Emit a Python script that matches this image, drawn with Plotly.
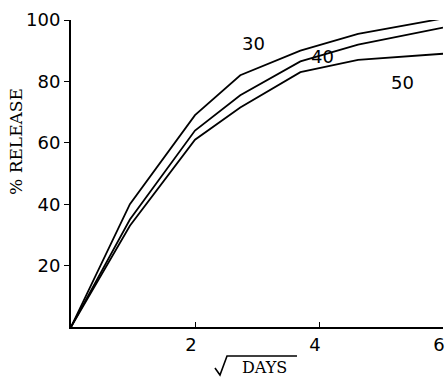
import plotly.graph_objects as go

sqrt_days = [0, 0.95, 2.0, 2.73, 3.7, 4.63, 6.0]
release_30 = [0, 40, 69, 82, 90, 95.5, 100.5]
release_40 = [0, 35, 64, 75.5, 86.5, 92, 97.5]
release_50 = [0, 33, 61, 71.5, 83, 87, 89]
series_names = ["30", "40", "50"]
label_x = [2.95, 4.06, 5.35]
label_y = [92.5, 88, 79.8]
x_ticks = [2, 4, 6]
y_ticks = [20, 40, 60, 80, 100]

fig = go.Figure()
for name, ys in zip(series_names, [release_30, release_40, release_50]):
    fig.add_trace(go.Scatter(x=sqrt_days, y=ys, mode="lines", name=name,
                             line=dict(color="black", width=1.8), showlegend=False,
                             cliponaxis=False))

for name, lx, ly in zip(series_names, label_x, label_y):
    fig.add_annotation(x=lx, y=ly, text=name, showarrow=False,
                       xanchor="center", yanchor="middle",
                       font=dict(family="DejaVu Sans", size=18, color="black"))

# axis titles
fig.add_annotation(xref="paper", yref="paper", x=-0.148, y=0.606, text="% RELEASE",
                   textangle=-90, showarrow=False, xanchor="center", yanchor="middle",
                   font=dict(family="DejaVu Serif", size=17, color="black"))
fig.add_annotation(xref="paper", yref="paper", x=0.5215, y=-0.1303,
                   xanchor="center", yanchor="middle",
                   text="DAYS", showarrow=False,
                   font=dict(family="DejaVu Serif", size=16, color="black"))
# radical sign over DAYS
fig.add_shape(type="path", xref="paper", yref="paper",
              path="M 0.387 -0.1336 L 0.4005 -0.1564 L 0.4194 -0.0945 L 0.6075 -0.0945",
              line=dict(color="black", width=1.6))

fig.update_xaxes(range=[0, 6], tickvals=x_ticks,
                 ticks="inside", ticklen=5, ticklabeloverflow="allow",
                 tickcolor="black", showline=True, linecolor="black", linewidth=2,
                 showgrid=False, zeroline=False, automargin=False, ticklabelshift=-4,
                 tickfont=dict(family="DejaVu Sans", size=18, color="black"))
fig.update_yaxes(range=[0, 100], tickvals=y_ticks, ticks="outside", ticklen=5,
                 tickcolor="black", showline=True, linecolor="black", linewidth=2,
                 showgrid=False, zeroline=False, automargin=False,
                 tickfont=dict(family="DejaVu Sans", size=18, color="black"))

fig.update_layout(width=446, height=377,
                  margin=dict(l=71, r=3, t=20, b=50, autoexpand=False),
                  plot_bgcolor="white", paper_bgcolor="white")
fig.write_html("out.html", config={"displayModeBar": False},
               post_script="document.body.style.margin='0';document.body.style.overflow='hidden';")
